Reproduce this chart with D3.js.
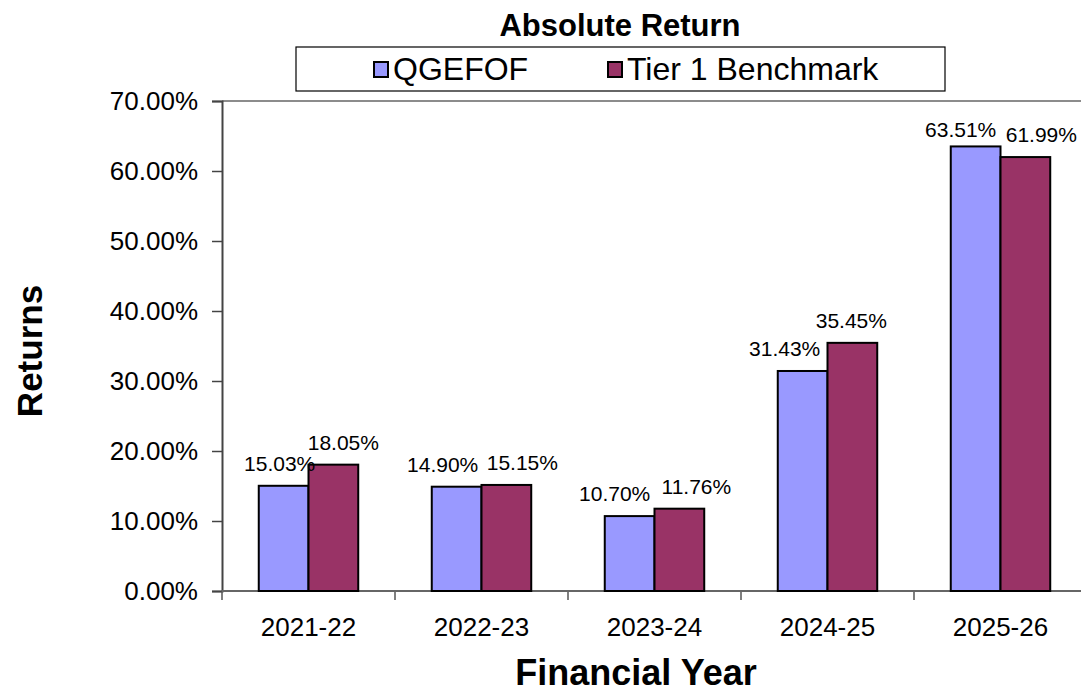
<!DOCTYPE html>
<html>
<head>
<meta charset="utf-8">
<script src="https://cdn.jsdelivr.net/npm/d3@7"></script>
<style>
  body { margin: 0; background: #fff; }
  text { font-family: "Liberation Sans", Arial, sans-serif; fill: #000; }
</style>
</head>
<body>
<svg id="chart" width="1081" height="692"></svg>
<script>
// data
const years = ["2021-22", "2022-23", "2023-24", "2024-25", "2025-26"]
const seriesNames = ["QGEFOF", "Tier 1 Benchmark"]
const qgefof = [15.03, 14.90, 10.70, 31.43, 63.51]
const tier1 = [18.05, 15.15, 11.76, 35.45, 61.99]
const yTicks = [0, 10, 20, 30, 40, 50, 60, 70]
const colors = ["#9999ff", "#993366"]

// label nudges (px) so the value labels sit where Excel put them
const labelDx = [[-4, -14, -15, -18, -15], [10, 16, 17, -1, 16]]
const labelDy = [[0, 0, 0, 0, 6], [0, 0, 0, 0, 0]]

const svg = d3.select("#chart")
const plot = {left: 222, top: 101, right: 1087, bottom: 591}

const x0 = d3.scaleBand()
    .domain(years)
    .range([plot.left, plot.right])
    .paddingInner(0.425)
    .paddingOuter(0.2125)

const x1 = d3.scaleBand()
    .domain(seriesNames)
    .range([0, x0.bandwidth()])

const y = d3.scaleLinear()
    .domain([0, 70])
    .range([plot.bottom, plot.top])

// top frame line
svg.append("line")
    .attr("x1", plot.left).attr("x2", plot.right)
    .attr("y1", plot.top).attr("y2", plot.top)
    .attr("stroke", "#8c8c8c").attr("stroke-width", 2)

// y axis
const yAxis = svg.append("g")
    .attr("transform", `translate(${plot.left},0)`)
    .call(d3.axisLeft(y).tickValues(yTicks).tickSize(10).tickPadding(14)
        .tickFormat(d => d.toFixed(2) + "%"))
yAxis.select(".domain").attr("stroke", "#444").attr("stroke-width", 2)
yAxis.selectAll(".tick line").attr("stroke", "#444").attr("stroke-width", 1.5)
yAxis.selectAll("text").style("font-size", "26px").attr("fill", "#000")

// x axis, ticks sit between categories
const step = x0.step()
const xAxis = svg.append("g")
svg.append("line")
    .attr("x1", plot.left).attr("x2", plot.right)
    .attr("y1", plot.bottom).attr("y2", plot.bottom)
    .attr("stroke", "#666").attr("stroke-width", 2)
xAxis.selectAll("line.tk")
    .data(d3.range(years.length + 1))
    .join("line")
    .attr("class", "tk")
    .attr("x1", i => plot.left + i * step).attr("x2", i => plot.left + i * step)
    .attr("y1", plot.bottom).attr("y2", plot.bottom + 9)
    .attr("stroke", "#555").attr("stroke-width", 1.5)
xAxis.selectAll("text")
    .data(years)
    .join("text")
    .attr("x", d => x0(d) + x0.bandwidth() / 2)
    .attr("y", 636)
    .attr("text-anchor", "middle")
    .style("font-size", "26px")
    .text(d => d)

// bars
const rows = years.map((yr, i) => ({year: yr, i: i, vals: [qgefof[i], tier1[i]]}))
const groups = svg.append("g").selectAll("g")
    .data(rows)
    .join("g")
    .attr("transform", d => `translate(${x0(d.year)},0)`)

groups.selectAll("rect")
    .data(d => d.vals.map((v, k) => ({name: seriesNames[k], v: v, k: k})))
    .join("rect")
    .attr("x", d => x1(d.name))
    .attr("y", d => y(d.v))
    .attr("width", x1.bandwidth())
    .attr("height", d => plot.bottom - y(d.v))
    .attr("fill", d => colors[d.k])
    .attr("stroke", "#000")
    .attr("stroke-width", 2)

// value labels
groups.selectAll("text")
    .data(d => d.vals.map((v, k) => ({name: seriesNames[k], v: v, k: k, i: d.i})))
    .join("text")
    .attr("x", d => x1(d.name) + x1.bandwidth() / 2 + labelDx[d.k][d.i])
    .attr("y", d => y(d.v) - 15 + labelDy[d.k][d.i])
    .attr("text-anchor", "middle")
    .style("font-size", "21px")
    .text(d => d.v.toFixed(2) + "%")

// title
svg.append("text")
    .attr("x", 620).attr("y", 36)
    .attr("text-anchor", "middle")
    .style("font-size", "31px").style("font-weight", "bold")
    .text("Absolute Return")

// legend
const legend = svg.append("g")
legend.append("rect")
    .attr("x", 296).attr("y", 47).attr("width", 649).attr("height", 44)
    .attr("fill", "#fff").attr("stroke", "#000").attr("stroke-width", 1.2)
const legendX = [374, 608]
seriesNames.forEach((name, k) => {
  legend.append("rect")
      .attr("x", legendX[k]).attr("y", 62).attr("width", 14).attr("height", 15)
      .attr("fill", colors[k]).attr("stroke", "#000").attr("stroke-width", 2)
  legend.append("text")
      .attr("x", legendX[k] + 19).attr("y", 80)
      .style("font-size", "32px")
      .text(name)
})

// axis titles
svg.append("text")
    .attr("x", 636).attr("y", 685)
    .attr("text-anchor", "middle")
    .style("font-size", "36px").style("font-weight", "bold")
    .text("Financial Year")

svg.append("text")
    .attr("transform", "translate(42,351) rotate(-90)")
    .attr("text-anchor", "middle")
    .style("font-size", "35px").style("font-weight", "bold")
    .text("Returns")
</script>
</body>
</html>
